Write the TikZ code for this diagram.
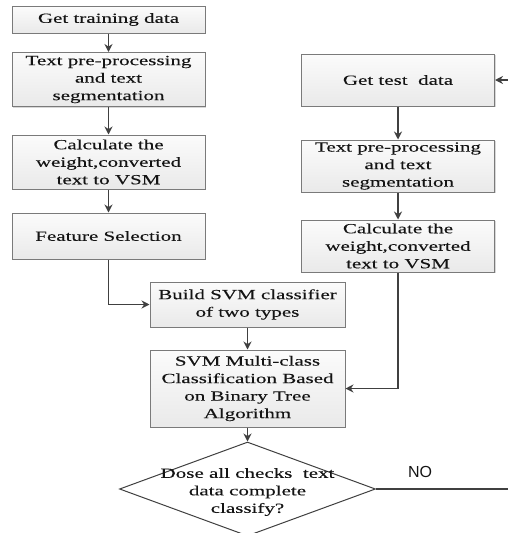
\documentclass[tikz,border=0pt]{standalone}
\usepackage{fontspec}
\setmainfont{Liberation Serif}[FakeStretch=1.5, FakeBold=0.12]
\newfontfamily\labelfont{Liberation Sans}
\usepackage{tikz}
\usetikzlibrary{arrows.meta,shapes.geometric,shadows}
\definecolor{fline}{HTML}{404040}
\definecolor{fborder}{HTML}{7A7A7A}
\definecolor{ftext}{HTML}{141414}

\begin{document}
\begin{tikzpicture}[x=1pt, y=-1pt,
    process/.style={rectangle, draw=fborder, line width=1pt, top color=gray!3, bottom color=gray!17, minimum width=193pt, inner sep=0pt, font=\fontsize{14}{17.5}\selectfont, text=ftext, align=center, drop shadow={shadow xshift=1.2pt, shadow yshift=-1.2pt, fill=gray!60}},
    decision/.style={diamond, draw=fline, line width=1pt, fill=white, minimum width=256pt, minimum height=94pt, inner sep=0pt},
    qtext/.style={font=\fontsize{14}{17.5}\selectfont, text=ftext, align=center},
    flow/.style={draw=fline, line width=1.2pt, -{Stealth[length=8pt, width=8pt]}},
    plain/.style={draw=fline, line width=1.2pt}
]
    \useasboundingbox (0,0) rectangle (508,533);

    % Training side
    \node[process, minimum height=27pt] (train) at (108.5,19.5) {Get training data};
    \node[process, minimum height=54pt] (tpre) at (108.5,79.5) {Text pre-processing\\and text\\segmentation};
    \node[process, minimum height=54pt] (tcalc) at (108.5,162) {Calculate the\\weight,converted\\text to VSM};
    \node[process, minimum height=46pt] (feat) at (108.5,236) {Feature Selection};

    % Test side
    \node[process, minimum height=52pt] (test) at (398,80) {Get test\ \ data};
    \node[process, minimum height=52pt] (spre) at (398,166) {Text pre-processing\\and text\\segmentation};
    \node[process, minimum height=52pt] (scalc) at (398,246) {Calculate the\\weight,converted\\text to VSM};

    % Classifier
    \node[process, minimum width=195pt, minimum height=45pt] (build) at (247.5,304.5) {Build SVM classifier\\of two types};
    \node[process, minimum width=195pt, minimum height=77pt] (multi) at (247.5,388.5) {SVM Multi-class\\Classification Based\\on Binary Tree\\Algorithm};
    \node[decision] (check) at (247.5,489) {};
    \node[qtext] (checktext) at (247.5,492) {Dose all checks\ \ text\\data complete\\classify?};
    \node[font=\labelfont\fontsize{16}{18}\selectfont, text=ftext] (no) at (420,472) {NO};

    \coordinate (noend) at (508,489);
    \coordinate (back) at (508,80);

    % Links
    \draw[flow] (train) -- (tpre);
    \draw[flow] (tpre) -- (tcalc);
    \draw[flow] (tcalc) -- (feat);
    \draw[flow] (feat.south) |- (build.west);
    \draw[flow] (back) -- (test.east);
    \draw[flow] (test) -- (spre);
    \draw[flow] (spre) -- (scalc);
    \draw[flow] (scalc.south) |- (multi.east);
    \draw[flow] (build) -- (multi);
    \draw[flow] (multi.south) -- (check.north);
    \draw[plain] (check.east) -- (noend);

\end{tikzpicture}
\end{document}
